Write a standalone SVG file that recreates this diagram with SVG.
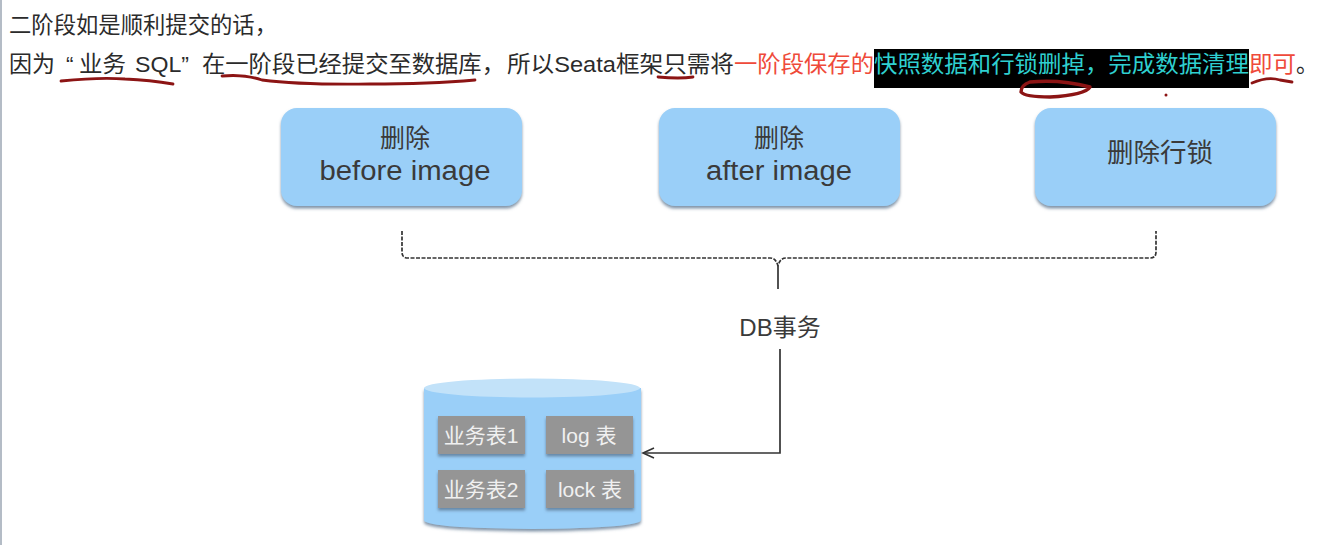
<svg xmlns="http://www.w3.org/2000/svg" width="1317" height="545" viewBox="0 0 1317 545">
<defs>
<filter id="soft" x="-10%" y="-10%" width="120%" height="125%"><feDropShadow dx="0" dy="2.5" stdDeviation="1.6" flood-color="#56718a" flood-opacity=".75"/></filter>
<marker id="arrow" markerWidth="14" markerHeight="14" refX="1" refY="7" orient="auto" markerUnits="userSpaceOnUse" overflow="visible"><path d="M12 2 L1 7 L12 12" fill="none" stroke="#333" stroke-width="1.6" transform="rotate(180 1 7)"/></marker>
</defs>
<style>
text{font-family:"Liberation Sans","Noto Sans CJK SC",sans-serif}
.p{font-size:22.5px;fill:#2b2b2b}
.n{font-size:25px;fill:#3a3a3a;text-anchor:middle}
.t{font-size:21px;fill:#f0f0f0;text-anchor:middle}
.box{fill:#9acff8;filter:url(#soft)}
.tb{fill:#959595;stroke:none;filter:url(#soft)}
.ink{fill:none;stroke:#8c1414;stroke-width:2.8;stroke-linecap:round;stroke-linejoin:round}
.conn{fill:none;stroke:#333;stroke-width:1.7}
</style>
<rect width="1317" height="545" fill="#fff"/>
<rect x="0" y="0" width="2" height="545" fill="#b4bcc6"/>
<g id="caption">
<text class="p" x="9" y="33" textLength="268" lengthAdjust="spacingAndGlyphs">二阶段如是顺利提交的话，</text>
<rect x="874" y="49" width="375" height="39" fill="#000"/>
<text class="p" x="9" y="72" textLength="46" lengthAdjust="spacingAndGlyphs">因为</text>
<text class="p" x="66" y="72">“</text>
<text class="p" x="79" y="72" textLength="47" lengthAdjust="spacingAndGlyphs">业务</text>
<text class="p" x="135" y="72" textLength="54" lengthAdjust="spacingAndGlyphs">SQL”</text>
<text class="p" x="202" y="72" textLength="303" lengthAdjust="spacingAndGlyphs">在一阶段已经提交至数据库，</text>
<text class="p" x="507" y="72" textLength="227" lengthAdjust="spacingAndGlyphs">所以Seata框架只需将</text>
<text class="p" x="734" y="72" textLength="140" lengthAdjust="spacingAndGlyphs" style="fill:#ef4a3a">一阶段保存的</text>
<text class="p" x="874" y="72" textLength="375" lengthAdjust="spacingAndGlyphs" style="fill:#2fd0d0">快照数据和行锁删掉，完成数据清理</text>
<text class="p" x="1249" y="72" textLength="47" lengthAdjust="spacingAndGlyphs" style="fill:#ef4a3a">即可</text>
<text class="p" x="1296" y="72">。</text>
</g>
<g id="ink">
<path class="ink" d="M61 81 Q100 77 125 79 Q150 80 173 84"/>
<path class="ink" d="M222 76 Q245 74 262 80 Q300 85 370 84 Q430 84 475 80"/>
<path class="ink" d="M658 77 Q680 79 693 77"/>
<path class="ink" style="stroke-width:3.4" d="M1030 82 Q1060 79 1090 87 Q1085 95 1050 97 Q1025 97 1021 92 Q1021 85 1030 82"/>
<path class="ink" d="M1252 83 Q1268 76 1280 80 L1292 82"/>
<circle cx="1166" cy="95" r="1.5" fill="#8c1414"/>
</g>
<g id="node-before"><rect class="box" x="281" y="108" width="241" height="98" rx="16"/><text class="n" x="405" y="147">删除</text><text class="n" x="405" y="180" textLength="171" lengthAdjust="spacingAndGlyphs" style="font-size:27px">before image</text></g>
<g id="node-after"><rect class="box" x="659" y="108" width="241" height="98" rx="16"/><text class="n" x="779" y="147">删除</text><text class="n" x="779" y="180" textLength="146" lengthAdjust="spacingAndGlyphs" style="font-size:27px">after image</text></g>
<g id="node-lock"><rect class="box" x="1035" y="108" width="241" height="98" rx="16"/><text class="n" x="1160" y="162" style="font-size:26.5px">删除行锁</text></g>
<g id="connectors">
<path class="conn" stroke-dasharray="4 1.5" d="M402 231 V252 Q402 258 408 258 H770 Q776 258 778 266 Q780 258 786 258 H1150 Q1156 258 1156 252 V231"/>
<path class="conn" d="M778 266 V289"/>
<path class="conn" d="M780 349 V453 H643" marker-end="url(#arrow)"/>
</g>
<g id="node-db-label"><text class="n" x="780" y="336" style="font-size:24px">DB事务</text></g>
<g id="node-db">
<path d="M424 388 V520 Q424 528 532 529 Q640 528 641 520 V388 Z" fill="#9acff8" filter="url(#soft)"/>
<ellipse cx="532" cy="388" rx="108" ry="9.5" fill="#c2e2f9"/>
<g><rect class="tb" x="438" y="416" width="87" height="38"/><text class="t" x="481" y="443">业务表1</text></g>
<g><rect class="tb" x="546" y="416" width="87" height="38"/><text class="t" x="589" y="443">log 表</text></g>
<g><rect class="tb" x="438" y="470" width="87" height="38"/><text class="t" x="481" y="497">业务表2</text></g>
<g><rect class="tb" x="546" y="470" width="88" height="38"/><text class="t" x="590" y="497">lock 表</text></g>
</g>
</svg>
